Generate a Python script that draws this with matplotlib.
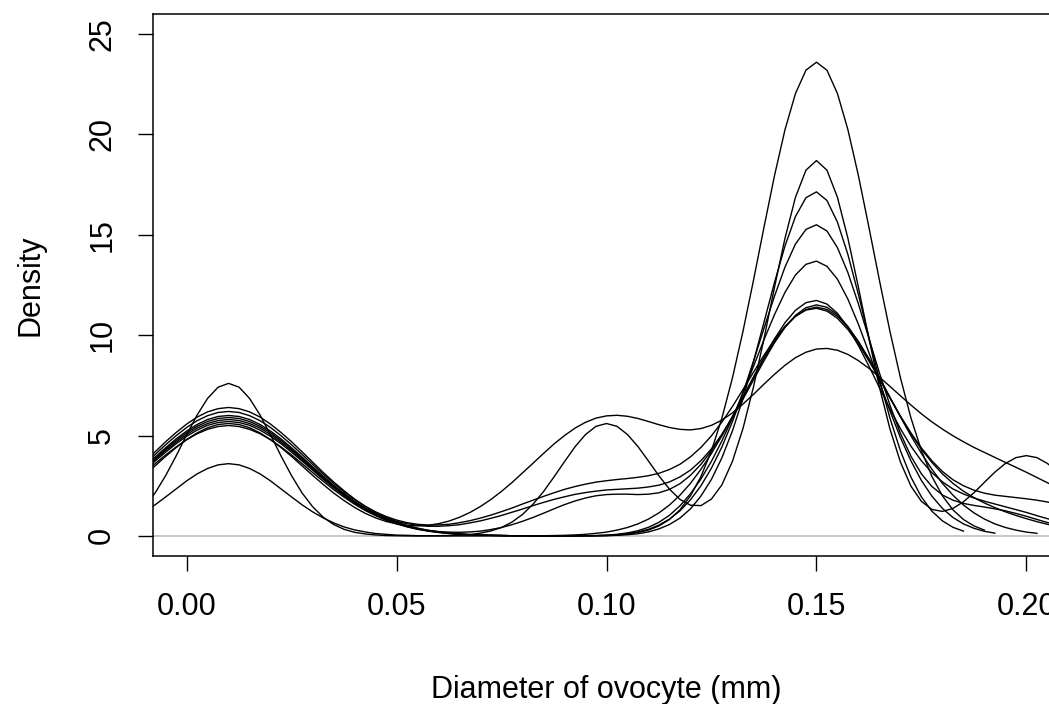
import numpy as np
import matplotlib
matplotlib.use('Agg')
import matplotlib.pyplot as plt

plt.rcParams['font.family'] = ['Liberation Sans', 'DejaVu Sans']

# Diameter grid (mm) on which the density curves were read: -0.01 .. 0.21, step 0.0025
diam = np.round(-0.01 + 0.0025 * np.arange(89), 4)

# Density values, in hundredths (density x 100), one list per sample
dens_a = [120,155,194,234,274,309,336,354,360,354,336,309,274,234,194,155,120,90,65,45,30,20,12,8,4,3,1,1,
          0,0,0,0,0,0,0,0,0,0,0,0,0,0,
          1,1,2,5,9,17,29,50,82,130,200,296,425,588,788,1019,1273,1537,1794,2023,2204,2320,2360,
          2320,2204,2023,1794,1537,1273,1019,788,588,425,296,200,130,82,50,29]
dens_b = [146,214,300,398,503,602,685,741,760,741,685,602,503,398,300,214,146,94,57,33,18,10,5,2,1,0,0,0,1,2,4,7,14,25,42,
          69,107,158,221,294,370,444,505,546,560,546,505,445,373,299,233,182,153,151,184,255,372,535,742,982,1238,1482,1687,
          1822,1870,1822,1687,1482,1238,982,741,533,368,248,172,132,122,137,170,215,267,318,361,390,400,390,361,317,265]
dens_c = [302,349,396,440,480,513,539,555,560,555,539,513,480,440,396,349,302,257,214,176,142,113,90,72,60,52,50,53,61,74,
          93,117,147,182,222,266,314,362,411,458,500,537,566,587,598,601,596,585,570,554,540,531,528,535,551,577,613,657,
          705,756,805,850,888,915,931,934,925,904,873,835,791,745,698,652,608,568,532,499,469,441,416,391,366,342,317,291,
          265,239,212]
dens_d = [339,386,432,475,514,546,570,585,590,585,570,546,514,475,432,386,339,293,248,207,170,137,108,84,65,49,37,28,22,19,
          18,20,24,32,42,56,73,92,113,135,156,174,189,200,206,208,208,206,208,215,232,260,302,357,425,506,595,691,791,889,
          981,1062,1124,1162,1173,1155,1109,1038,948,846,739,633,534,447,374,315,269,234,209,189,173,159,145,131,117,101,86,
          72,58]
dens_e = [356,406,454,499,540,574,599,615,620,615,599,574,540,499,454,406,357,308,262,219,181,148,120,97,79,66,58,54,55,58,
          66,76,89,104,121,139,159,178,197,215,232,246,258,268,275,281,286,292,300,312,331,357,394,441,499,568,645,729,815,
          900,978,1044,1094,1125,1134,1120,1084,1028,956,872,781,688,597,513,438,374,321,280,250,228,213,203,197,191,185,
          178,169,158,145]
dens_f = [333,380,425,467,505,537,560,575,580,575,560,537,505,467,425,380,334,288,245,205,169,138,111,90,73,61,53,48,48,51,
          56,65,75,88,102,118,134,151,167,182,195,207,216,223,229,232,235,238,244,253,269,294,328,375,434,506,589,681,777,
          872,962,1039,1099,1137,1151,1139,1102,1043,967,879,784,688,595,509,432,366,309,262,223,191,164,141,120,102,86,71,
          58,46,36]
dens_g = [368,419,469,515,557,592,618,634,640,634,618,592,557,515,469,419,368,317,269,225,184,148,117,91,70,52,39,28,20,14,
          10,7,4,3,2,1,1,0,0,0,0,0,0,1,1,3,6,11,20,35,57,89,135,199,282,390,524,684,867,1064,1262,1444,1591,1685,1714,1671,
          1563,1401,1202,989,779,587,424,293,194,123,75,43,24]
dens_h = [345,393,439,483,522,555,580,595,600,595,580,555,522,483,439,393,345,298,252,211,172,139,110,86,65,49,36,26,19,13,
          9,6,4,3,2,1,1,0,0,0,0,0,1,1,3,6,11,20,33,54,84,125,180,250,338,444,570,713,870,1034,1194,1339,1454,1527,1550,1519,
          1436,1311,1155,984,812,651,511,397,309,246,204,178,162,152,144,135,125,112,98,82,67,53,40]
dens_i = [328,373,417,459,496,527,551,565,570,565,551,527,496,459,417,373,328,283,240,200,164,132,104,81,62,47,34,25,18,13,
          9,6,4,3,2,1,1,0,0,0,0,1,1,2,4,8,15,26,43,68,103,150,210,284,372,474,588,713,844,977,1102,1213,1300,1353,1369,
          1343,1279,1179,1054,913,766,623,490,374,276,198,137,92,60,38,23,14]
dens_j = [316,360,403,443,479,509,531,545,550,545,531,509,479,443,403,360,316,273,231,193,158,127,101,78,60,45,33,24,17,12,
          8,6,4,3,2,1,1,1,1,2,3,5,8,13,19,29,42,60,84,115,154,203,262,332,411,499,593,691,790,883,968,1040,1094,1128,1140,
          1128,1094,1040,968,883,790,691,593,499,411,332,262,203,154,115,84,60,42,29,19,13]

curves = [dens_a, dens_b, dens_c, dens_d, dens_e, dens_f, dens_g, dens_h, dens_i, dens_j]

x_ticks = [0.00, 0.05, 0.10, 0.15, 0.20]
x_tick_labels = ['0.00', '0.05', '0.10', '0.15', '0.20']
y_ticks = [0, 5, 10, 15, 20, 25]
y_tick_labels = ['0', '5', '10', '15', '20', '25']

fig = plt.figure(figsize=(10.49, 7.04), dpi=100)
ax = fig.add_axes([153/1049, (704-556)/704, (1060-153)/1049, (556-14)/704])

for vals in curves:
    n = min(len(vals), len(diam))
    ax.plot(diam[:n], np.asarray(vals[:n], dtype=float) / 100.0,
            color='black', lw=1.0, solid_joinstyle='round')

ax.axhline(0, color='#BEBEBE', lw=1.2, zorder=0)
ax.set_xlim(-0.008, 0.208)
ax.set_ylim(-1, 26)
ax.set_xticks(x_ticks)
ax.set_xticklabels(x_tick_labels)
ax.set_yticks(y_ticks)
ax.set_yticklabels(y_tick_labels, rotation=90, va='center')
ax.tick_params(length=10.8, width=1.0, labelsize=22, pad=15)
for sp in ax.spines.values():
    sp.set_linewidth(1.1)
ax.set_xlabel('Diameter of ovocyte (mm)', fontsize=22, labelpad=38)
ax.set_ylabel('Density', fontsize=22, labelpad=30)

fig.savefig('out.png', dpi=100)
